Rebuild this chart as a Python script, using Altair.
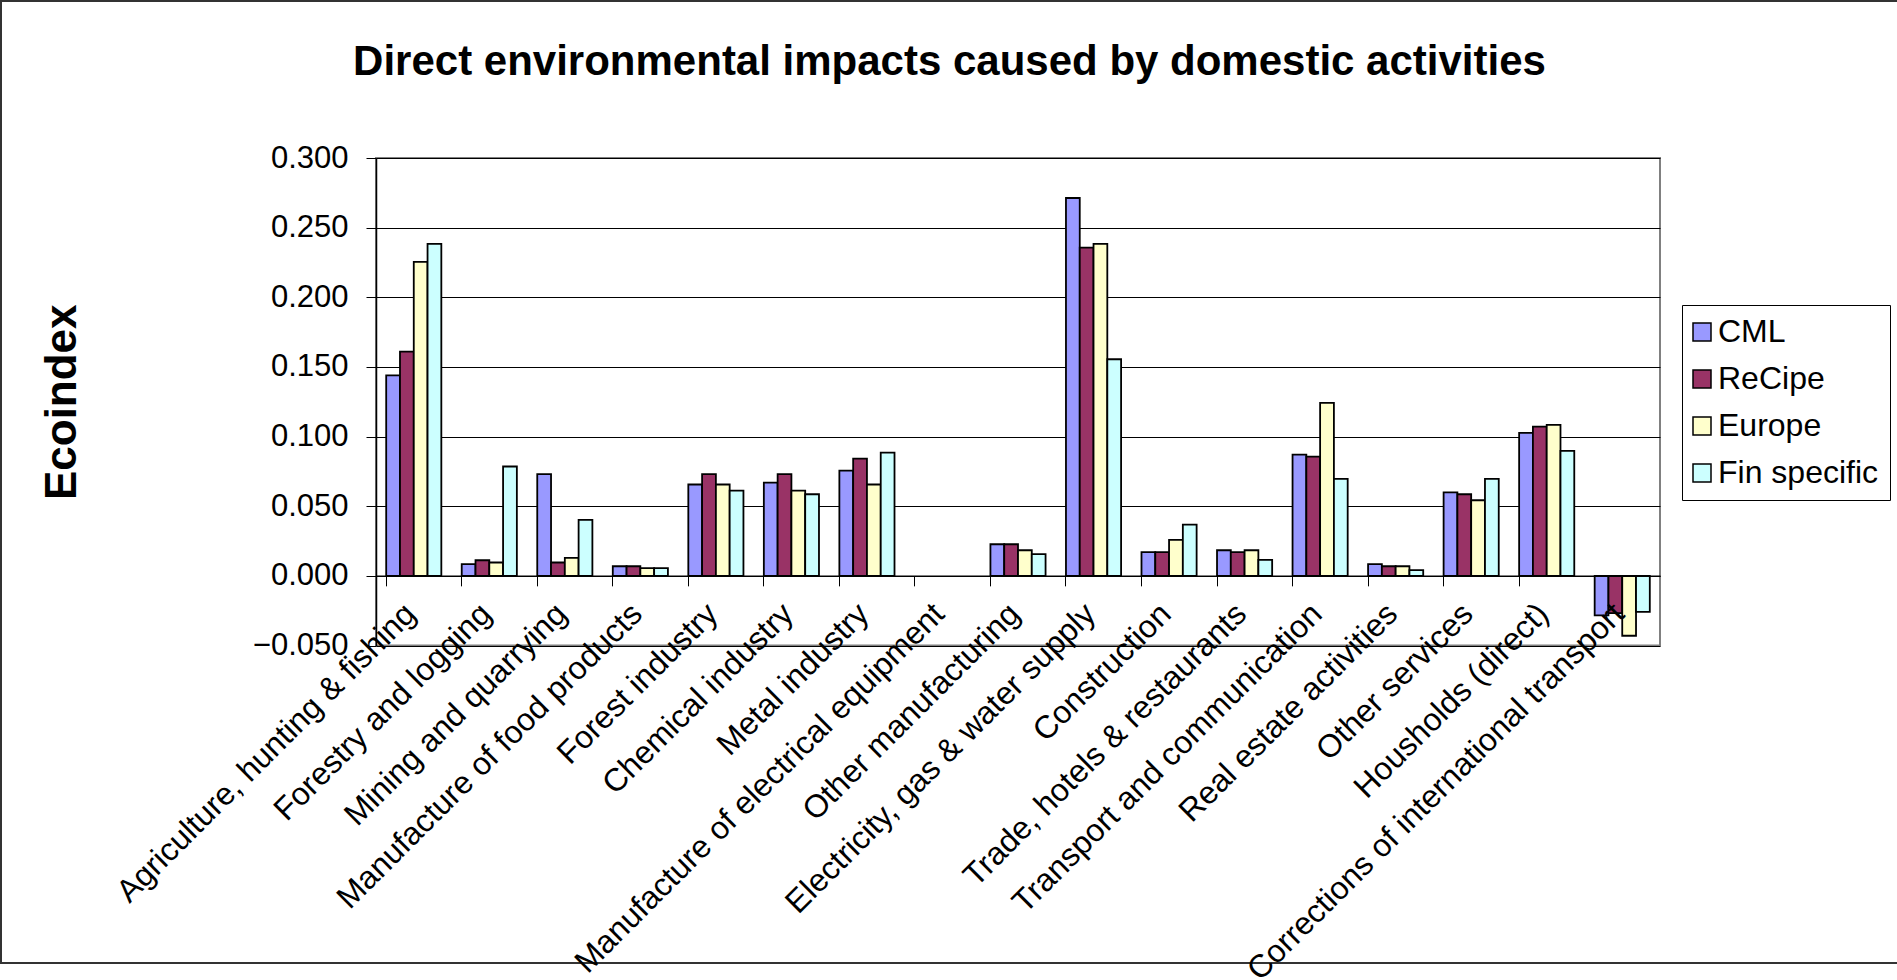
import altair as alt
import pandas as pd

categories = [
    "Agriculture, hunting & fishing",
    "Forestry and logging",
    "Mining and quarrying",
    "Manufacture of food products",
    "Forest industry",
    "Chemical industry",
    "Metal industry",
    "Manufacture of electrical equipment",
    "Other manufacturing",
    "Electricity, gas & water supply",
    "Construction",
    "Trade, hotels & restaurants",
    "Transport and communication",
    "Real estate activities",
    "Other services",
    "Housholds (direct)",
    "Corrections of international transport",
]
series = ["CML", "ReCipe", "Europe", "Fin specific"]
colors = ["#9999FF", "#993366", "#FFFFCC", "#CCFFFF"]

cml = [0.144, 0.0084, 0.073, 0.0069, 0.0656, 0.067, 0.0756, None, 0.0227, 0.2713,
       0.017, 0.0184, 0.0871, 0.0084, 0.060, 0.1026, -0.0284]
recipe = [0.161, 0.0112, 0.0096, 0.0069, 0.073, 0.073, 0.0842, None, 0.0227, 0.2356,
          0.017, 0.017, 0.0856, 0.0069, 0.0586, 0.1072, -0.0268]
europe = [0.2254, 0.0096, 0.0129, 0.0055, 0.0656, 0.0612, 0.0656, None, 0.0184, 0.2383,
          0.0258, 0.0184, 0.1242, 0.0069, 0.0543, 0.1084, -0.043]
fin = [0.2383, 0.0785, 0.0402, 0.0055, 0.0612, 0.0586, 0.0885, None, 0.0156, 0.1555,
       0.0368, 0.0115, 0.0696, 0.0041, 0.0696, 0.0897, -0.0258]

y_ticks = [-0.05, 0.0, 0.05, 0.1, 0.15, 0.2, 0.25, 0.3]
y_domain = [-0.05, 0.3]

rows = []
for s, vals in zip(series, [cml, recipe, europe, fin]):
    for c, v in zip(categories, vals):
        if v is not None:
            rows.append({"category": c, "series": s, "value": v})
df = pd.DataFrame(rows)

FONT = "Liberation Sans"
W, H = 1284, 487.5
L, T = 376, 158
PAGE_W, PAGE_H = 1897, 980
zero_offset = H * (0 - y_domain[0]) / (y_domain[1] - y_domain[0])

bars = alt.Chart(df).mark_bar(stroke="black", strokeWidth=1.8).encode(
    x=alt.X(
        "category:N",
        scale=alt.Scale(domain=categories, paddingInner=0.27, paddingOuter=0.135),
        axis=alt.Axis(
            title=None, orient="bottom", offset=-zero_offset, bandPosition=0,
            domainColor="black", domainWidth=1.5, tickColor="black", tickWidth=1,
            tickSize=10, labelAngle=-45, labelFontSize=32, labelFont=FONT,
            labelColor="black", labelPadding=12, labelOffset=-14, labelLimit=1000,
            labelOverlap=False, grid=False, zindex=1,
        ),
    ),
    xOffset=alt.XOffset(
        "series:N", scale=alt.Scale(domain=series, paddingInner=0, paddingOuter=0)
    ),
    y=alt.Y(
        "value:Q", stack=None,
        scale=alt.Scale(domain=y_domain, nice=False, zero=False),
        axis=alt.Axis(
            values=y_ticks, format=".3f", title="Ecoindex", titleFont=FONT,
            titleFontSize=44, titleFontWeight="bold", titleColor="black",
            titleAngle=270, titleX=-301, titleY=H / 2, titleAlign="center",
            titleBaseline="alphabetic", labelFont=FONT, labelFontSize=31,
            labelColor="black", labelPadding=18, tickSize=10, tickColor="black",
            domainColor="black", domainWidth=1.5, grid=True, gridColor="black",
            gridWidth=1,
        ),
    ),
    y2=alt.datum(0),
    color=alt.Color(
        "series:N",
        scale=alt.Scale(domain=series, range=colors),
        legend=alt.Legend(
            title=None, orient="none", legendX=1306, legendY=147,
            symbolType="square", symbolSize=324, symbolStrokeColor="black",
            symbolStrokeWidth=1.5, symbolOffset=-7, labelFont=FONT,
            labelFontSize=32, labelColor="black", labelOffset=0, rowPadding=15,
            padding=11, strokeColor="black", fillColor="white", labelLimit=400,
        ),
    ),
)

deco = pd.DataFrame({"k": [0]})

title = alt.Chart(deco).mark_text(
    text="Direct environmental impacts caused by domestic activities",
    font=FONT, fontSize=42, fontWeight="bold", align="center",
    baseline="alphabetic", color="black",
).encode(x=alt.value(949.5 - L), y=alt.value(75 - T))

frame_top = alt.Chart(deco).mark_rule(color="#333333", strokeWidth=2).encode(
    x=alt.value(-L), x2=alt.value(PAGE_W - L), y=alt.value(1 - T)
)
frame_left = alt.Chart(deco).mark_rule(color="#333333", strokeWidth=2).encode(
    x=alt.value(1 - L), y=alt.value(1 - T), y2=alt.value(963 - T)
)
frame_bottom = alt.Chart(deco).mark_rule(color="#333333", strokeWidth=2).encode(
    x=alt.value(-L), x2=alt.value(PAGE_W - L), y=alt.value(963 - T)
)

chart = alt.layer(bars, title, frame_top, frame_left, frame_bottom).properties(
    width=W,
    height=H,
    padding={"left": L, "top": T, "right": PAGE_W - L - W, "bottom": PAGE_H - T - H},
    autosize=alt.AutoSizeParams(type="none"),
    background="white",
).configure_view(stroke="#808080", strokeWidth=2)

chart.save("out.html", embed_options={"renderer": "svg", "actions": False})
